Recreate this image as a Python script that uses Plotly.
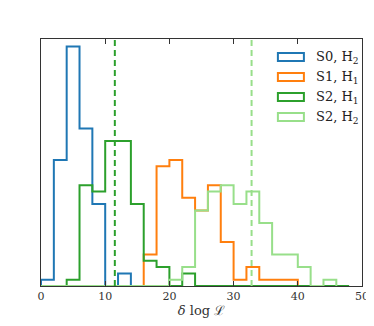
import plotly.graph_objects as go

# bin edges shared by all histograms (width 2)
edges = list(range(0, 50, 2))

# counts per bin
s0_h2 = [1, 20, 38, 25, 13, 0, 2]
s1_h1 = [0, 0, 0, 0, 0, 0, 0, 0, 5, 19, 20, 14, 12, 16, 7, 1, 3, 1, 1, 1]
s2_h1 = [0, 0, 1, 16, 15, 23, 23, 13, 4, 3, 0, 2, 0, 0, 0, 0, 0, 0, 0, 0, 0, 0, 0, 0]
s2_h2 = [0, 0, 0, 0, 0, 0, 0, 0, 0, 0, 1, 3, 12, 15, 16, 13, 15, 10, 5, 5, 3, 0, 1]

labels = ["S0, H<sub>2</sub>", "S1, H<sub>1</sub>", "S2, H<sub>1</sub>", "S2, H<sub>2</sub>"]
colors = ["#1f77b4", "#ff7f0e", "#2ca02c", "#98df8a"]

# medians marked by dashed lines
vlines = [11.5, 32.8]
vline_colors = ["#2ca02c", "#98df8a"]


def step(counts):
    xs = [edges[0]] + edges[:len(counts)] + [edges[0] + 2 * len(counts)]
    ys = [0] + counts + [0]
    return xs, ys


fig = go.Figure()
for counts, name, c in zip([s0_h2, s1_h1, s2_h1, s2_h2], labels, colors):
    xs, ys = step(counts)
    fig.add_trace(go.Scatter(x=xs, y=ys, mode="lines", name=name,
                             line=dict(color=c, width=2, shape="hv"),
                             showlegend=False))

for v, c in zip(vlines, vline_colors):
    fig.add_trace(go.Scatter(x=[v, v], y=[0, 39.2], mode="lines",
                             line=dict(color=c, width=2, dash="6px,4px"),
                             showlegend=False))

# legend drawn by hand: outlined rectangles like matplotlib patches
for i, (name, c) in enumerate(zip(labels, colors)):
    yc = 0.927 - i * 0.081
    fig.add_shape(type="rect", xref="paper", yref="paper",
                  x0=0.738, x1=0.819, y0=yc - 0.016, y1=yc + 0.016,
                  line=dict(color=c, width=2), fillcolor="white")
    fig.add_annotation(x=0.85, y=yc, xref="paper", yref="paper", text=name,
                       showarrow=False, xanchor="left", yanchor="middle",
                       font=dict(size=13, color="#222"))

# page body keeps its default 8px margin, so the figure is made smaller
fig.update_layout(
    width=366, height=310,
    margin=dict(l=33, r=12, t=31, b=32, autoexpand=False),
    plot_bgcolor="white", paper_bgcolor="white",
    font=dict(family="DejaVu Serif", size=12, color="#333"),
)
fig.update_xaxes(range=[0, 50], tickvals=[0, 10, 20, 30, 40, 50],
                 ticks="inside", ticklen=5, tickcolor="#333",
                 showline=True, linecolor="#333", linewidth=1, mirror="ticks",
                 showgrid=False, zeroline=False, automargin=False,
                 tickfont=dict(size=11),
                 title=dict(text="<i>δ</i> log ℒ", standoff=4,
                            font=dict(size=13, color="#333")))
fig.update_yaxes(range=[0, 39.2], showticklabels=False, ticks="",
                 showline=True, linecolor="#333", linewidth=1, mirror=True,
                 showgrid=False, zeroline=False, automargin=False)

fig.write_html("out.html")
